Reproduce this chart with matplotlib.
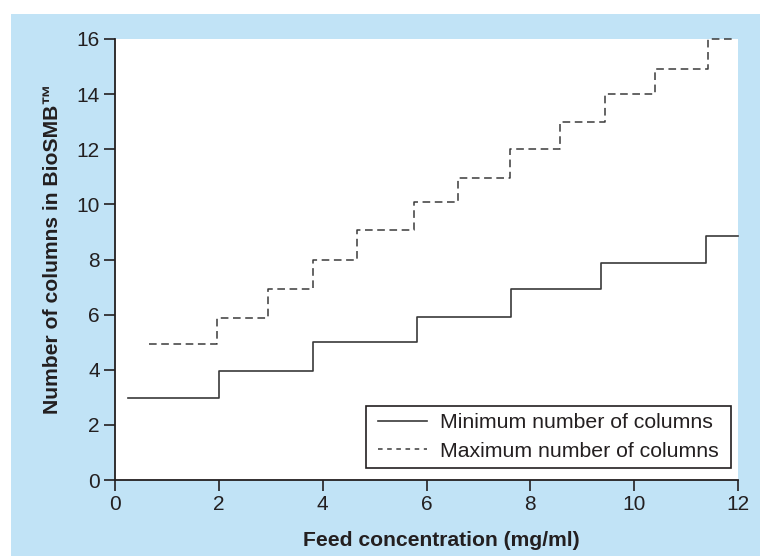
import matplotlib
matplotlib.use('Agg')
import matplotlib.pyplot as plt
from matplotlib.patches import Rectangle
from matplotlib.path import Path
from matplotlib.legend_handler import HandlerLine2D

plt.rcParams['font.family'] = ['Liberation Sans', 'DejaVu Sans']

# min number of columns (solid steps)
min_x = [0.25, 2.0, 3.82, 5.82, 7.63, 9.37, 11.38, 12.0]
min_y = [2.97, 3.97, 5.02, 5.93, 6.93, 7.87, 8.86, 8.86]

# max number of columns (dashed steps)
max_x = [0.66, 1.97, 2.95, 3.81, 4.67, 5.76, 6.6, 7.6, 8.57, 9.43, 10.4, 11.42, 11.9]
max_y = [4.92, 5.89, 6.93, 8.0, 9.07, 10.08, 10.97, 12.0, 13.0, 14.0, 14.9, 16.0, 16.0]

x_ticks = [0, 2, 4, 6, 8, 10, 12]
y_ticks = [0, 2, 4, 6, 8, 10, 12, 14, 16]

ink = '#231f20'
line_col = '#3a3a3a'
blue = '#c1e3f6'

W, H = 760, 556
fig = plt.figure(figsize=(W / 100, H / 100), dpi=100)
fig.patch.set_facecolor('white')
bg = Rectangle((11 / W, 0), 1 - 11 / W, 1 - 14 / H,
               transform=fig.transFigure, facecolor=blue,
               edgecolor='none', zorder=-5)
fig.patches.append(bg)

ax = fig.add_axes([115 / W, 1 - 480 / H, (738 - 115) / W, (480 - 39) / H])
ax.set_zorder(3)
ax.set_facecolor('white')

ax.step(min_x, min_y, where='post', color=line_col, lw=1.2,
        label='Minimum number of columns', clip_on=False)
max_line, = ax.step(max_x, max_y, where='post', color=line_col, lw=1.1,
                    linestyle=(0, (5, 3)), label='Maximum number of columns',
                    clip_on=False)

ax.set_xlim(0, 12)
ax.set_ylim(0, 16)
ax.set_xticks(x_ticks)
ax.set_yticks(y_ticks)

for s in ['top', 'right']:
    ax.spines[s].set_visible(False)
for s in ['left', 'bottom']:
    ax.spines[s].set_color(ink)
    ax.spines[s].set_linewidth(1.3)

ax.tick_params(direction='out', length=8, width=1.2, color=ink,
               labelsize=15, labelcolor=ink, pad=3)

ax.set_xlabel('Feed concentration (mg/ml)', fontsize=15.2, fontweight='bold',
              color=ink, labelpad=12)
ax.set_ylabel('Number of columns in BioSMB\u2122', fontsize=15.2,
              fontweight='bold', color=ink, labelpad=10)
ax.xaxis.label.set_x(0.523)
ax.yaxis.label.set_y(0.525)


def wide_box(x0, y0, width, height, mutation_size, padx=5.5):
    # frame a bit wider than tall padding
    x0 = x0 - padx
    width = width + 2 * padx
    return Path([(x0, y0), (x0 + width, y0), (x0 + width, y0 + height),
                 (x0, y0 + height), (x0, y0)], closed=True)


def short_dashes(leg_line, orig):
    leg_line.update_from(orig)
    leg_line.set_linestyle((0, (3, 3)))


leg = ax.legend(loc='lower right', bbox_to_anchor=(0.98, 0.0283),
                fontsize=15.3, fancybox=False, framealpha=1, edgecolor=ink,
                handlelength=2.3, handletextpad=0.6, borderpad=0.32,
                labelspacing=0.45, borderaxespad=0,
                handler_map={max_line: HandlerLine2D(update_func=short_dashes)})
leg.get_frame().set_boxstyle(wide_box)
leg.get_frame().set_linewidth(1.2)
for t in leg.get_texts():
    t.set_color(ink)

fig.savefig('out.png', dpi=100, facecolor=fig.get_facecolor())
